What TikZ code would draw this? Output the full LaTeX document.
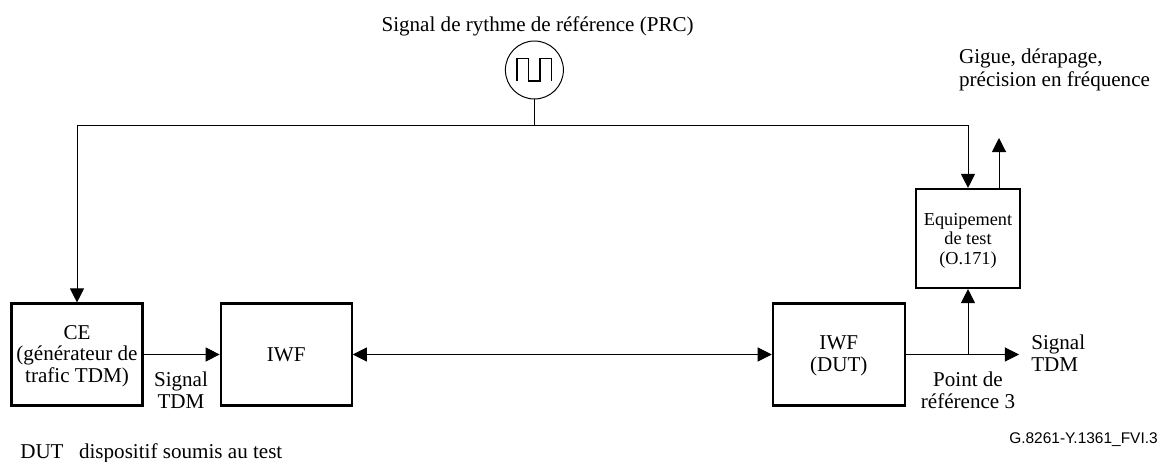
\documentclass[tikz,border=0pt]{standalone}
\usepackage{fontspec}
\setmainfont{Liberation Serif}
\newfontfamily\labelfont{Liberation Sans}
\usetikzlibrary{arrows.meta}
\newcommand{\toppad}{\rule{0pt}{12pt}}
\tikzset{
  box/.style={draw, line width=1.5pt, rectangle, align=center, inner sep=0pt},
  lab/.style={inner sep=0pt, align=center},
  sig/.style={line width=0.7pt},
  sigarrow/.style={sig, -{Triangle[length=10pt, width=10pt]}},
  sigboth/.style={sig, {Triangle[length=10pt, width=10pt]}-{Triangle[length=10pt, width=10pt]}}
}
\begin{document}
\begin{tikzpicture}[x=1cm,y=1cm,font=\fontsize{15}{15.4}\selectfont]
\useasboundingbox (0,0) rectangle (29.125,11.55);
\node[box, minimum width=3.275cm, minimum height=2.55cm] (ce) at (1.925,2.6875) {\toppad CE\\(générateur de\\trafic TDM)};
\node[box, minimum width=3.275cm, minimum height=2.55cm] (iwf) at (7.155,2.6875) {IWF};
\node[box, minimum width=3.3cm, minimum height=2.55cm] (dut) at (20.97,2.6875) {\toppad IWF\\(DUT)};
\node[box, minimum width=2.6cm, minimum height=2.475cm, font=\fontsize{13}{14}\selectfont] (test) at (24.2,5.5875) {\toppad Equipement\\de test\\(O.171)};
\node[draw, sig, circle, minimum size=1.45cm, inner sep=0pt] (prc) at (13.36,9.8) {};
\node[lab] (title) at (13.44,10.9) {Signal de rythme de référence (PRC)};
\node[lab, anchor=west, align=left, font=\fontsize{15}{16}\selectfont] (mes) at (23.97,9.8) {Gigue, dérapage,\\précision en fréquence};
\node[lab] (sigl) at (4.525,1.8) {Signal\\TDM};
\node[lab] (ref) at (24.2,1.8) {Point de\\référence 3};
\node[lab, anchor=west, align=left] (sigr) at (25.775,2.72) {Signal\\TDM};
\node[lab, anchor=west] (note) at (0.5,0.21) {DUT\hspace{11pt}dispositif soumis au test};
\node[lab, anchor=east, font=\labelfont\fontsize{11}{12}\selectfont] (fig) at (28.95,0.55) {G.8261-Y.1361\_FVI.3};
\coordinate (bus) at (13.36,8.425);
\coordinate (out) at (24.975,8.1);
\coordinate (end) at (25.475,2.6875);
\coordinate (tap) at (24.2,2.6875);
% clock
\draw[line width=1.2pt] (12.92,9.52) -- ++(0,0.57) -- ++(0.29,0) -- ++(0,-0.57) -- ++(0.29,0) -- ++(0,0.57) -- ++(0.29,0) -- ++(0,-0.57);
\draw[sig] (prc) -- (bus);
\draw[sigarrow] (bus) -| (ce);
\draw[sigarrow] (bus) -| (test);
\draw[sigarrow] (out |- test.north) -- (out);
\draw[sigarrow] (ce) -- (iwf);
\draw[sigboth] (iwf) -- (dut);
\draw[sigarrow] (dut) -- (end);
\draw[sigarrow] (tap) -- (test);
\end{tikzpicture}
\end{document}
